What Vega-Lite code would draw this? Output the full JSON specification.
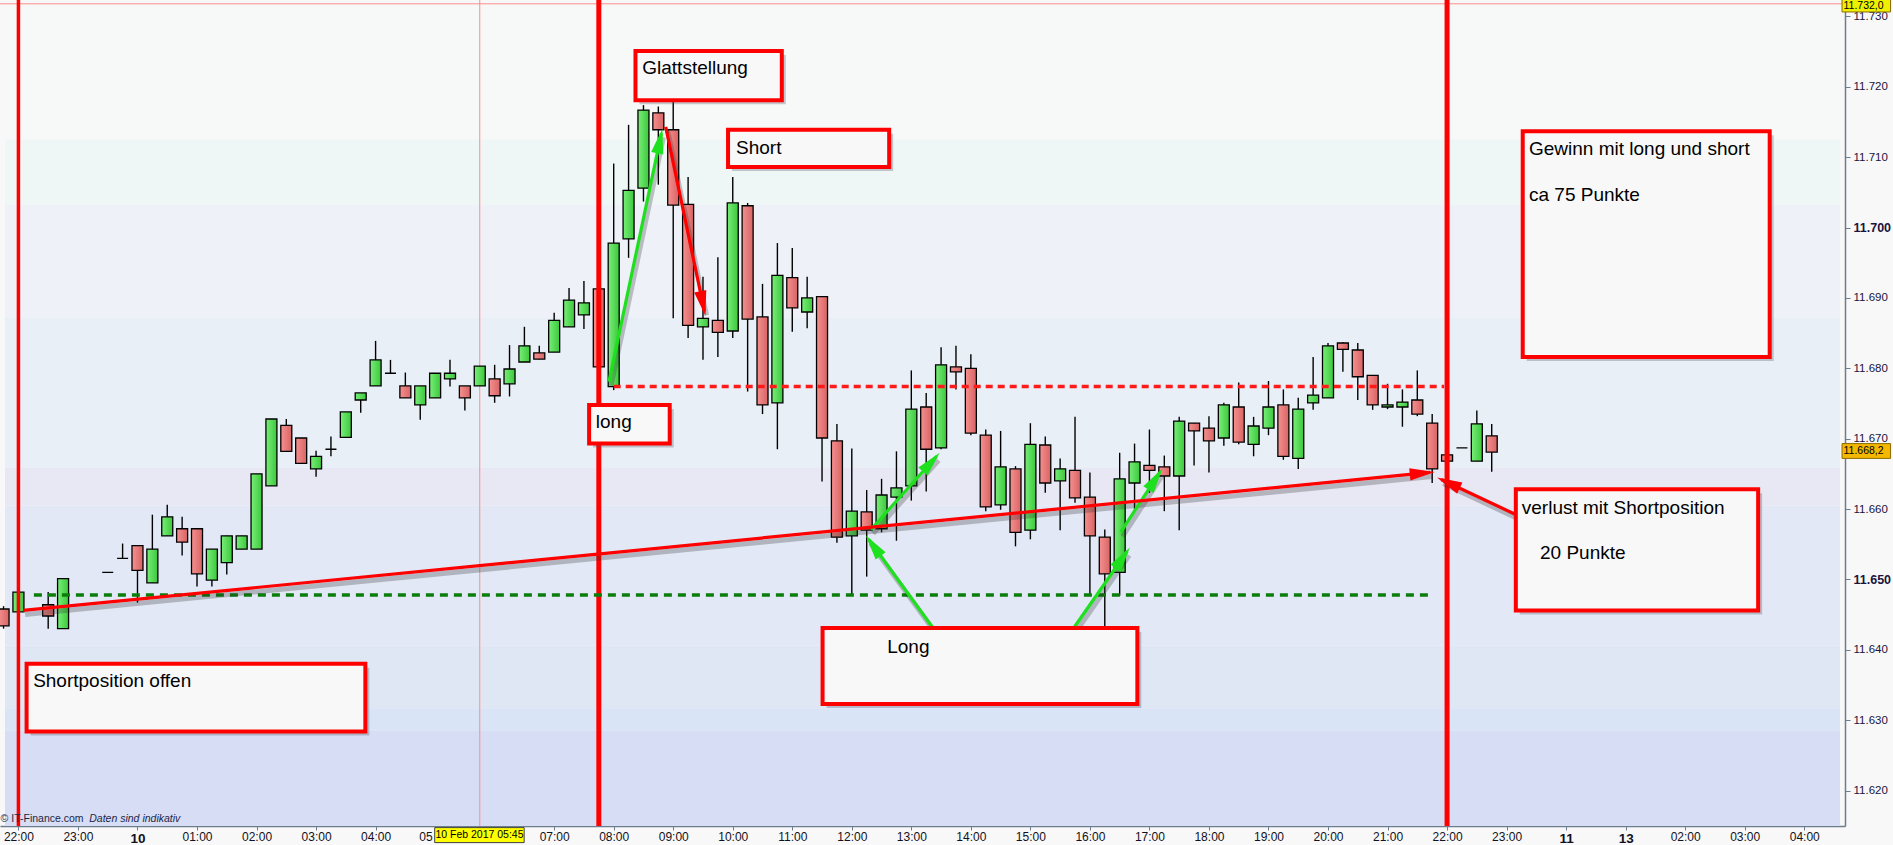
{
  "$schema": "https://vega.github.io/schema/vega-lite/v6.json",
  "width": 1845,
  "height": 826,
  "autosize": {"type": "none"},
  "padding": {"left": 0, "top": 0, "right": 48, "bottom": 19},
  "background": "#f8f8f8",
  "config": {"view": {"stroke": null}, "font": "Liberation Sans"},
  "datasets": {
    "bands": [
      {"v1": 11.73234, "v2": 11.7125, "b": "A"},
      {"v1": 11.7125, "v2": 11.7032, "b": "B"},
      {"v1": 11.7032, "v2": 11.6872, "b": "C"},
      {"v1": 11.6872, "v2": 11.6659, "b": "D"},
      {"v1": 11.6659, "v2": 11.6605, "b": "E"},
      {"v1": 11.6605, "v2": 11.6406, "b": "F"},
      {"v1": 11.6406, "v2": 11.6316, "b": "G"},
      {"v1": 11.6316, "v2": 11.6285, "b": "H"},
      {"v1": 11.6285, "v2": 11.61496, "b": "I"}
    ],
    "candles": [
      {"t": -0.25, "o": 11.6458, "h": 11.6462, "l": 11.6430, "c": 11.6434},
      {"t": 0, "o": 11.6454, "h": 11.6482, "l": 11.6454, "c": 11.6482},
      {"t": 0.5, "o": 11.6464, "h": 11.6482, "l": 11.6430, "c": 11.6448},
      {"t": 0.75, "o": 11.6430, "h": 11.6501, "l": 11.6430, "c": 11.6501},
      {"t": 1.5, "o": 11.6510, "h": 11.6510, "l": 11.6510, "c": 11.6510},
      {"t": 1.75, "o": 11.6530, "h": 11.6551, "l": 11.6530, "c": 11.6530},
      {"t": 2, "o": 11.6548, "h": 11.6548, "l": 11.6467, "c": 11.6513},
      {"t": 2.25, "o": 11.6495, "h": 11.6592, "l": 11.6495, "c": 11.6543},
      {"t": 2.5, "o": 11.6562, "h": 11.6606, "l": 11.6562, "c": 11.6589},
      {"t": 2.75, "o": 11.6572, "h": 11.6589, "l": 11.6534, "c": 11.6553},
      {"t": 3, "o": 11.6572, "h": 11.6572, "l": 11.6490, "c": 11.6508},
      {"t": 3.25, "o": 11.6499, "h": 11.6543, "l": 11.6490, "c": 11.6543},
      {"t": 3.5, "o": 11.6524, "h": 11.6562, "l": 11.6507, "c": 11.6562},
      {"t": 3.75, "o": 11.6543, "h": 11.6562, "l": 11.6543, "c": 11.6562},
      {"t": 4, "o": 11.6543, "h": 11.6650, "l": 11.6543, "c": 11.6650},
      {"t": 4.25, "o": 11.6633, "h": 11.6728, "l": 11.6633, "c": 11.6728},
      {"t": 4.5, "o": 11.6719, "h": 11.6728, "l": 11.6682, "c": 11.6682},
      {"t": 4.75, "o": 11.6701, "h": 11.6701, "l": 11.6665, "c": 11.6665},
      {"t": 5, "o": 11.6657, "h": 11.6683, "l": 11.6646, "c": 11.6675},
      {"t": 5.25, "o": 11.6685, "h": 11.6703, "l": 11.6675, "c": 11.6685},
      {"t": 5.5, "o": 11.6702, "h": 11.6738, "l": 11.6702, "c": 11.6738},
      {"t": 5.75, "o": 11.6755, "h": 11.6765, "l": 11.6737, "c": 11.6765},
      {"t": 6, "o": 11.6775, "h": 11.6839, "l": 11.6775, "c": 11.6812},
      {"t": 6.25, "o": 11.6793, "h": 11.6812, "l": 11.6793, "c": 11.6793},
      {"t": 6.5, "o": 11.6775, "h": 11.6794, "l": 11.6758, "c": 11.6758},
      {"t": 6.75, "o": 11.6748, "h": 11.6775, "l": 11.6727, "c": 11.6775},
      {"t": 7, "o": 11.6758, "h": 11.6793, "l": 11.6758, "c": 11.6793},
      {"t": 7.25, "o": 11.6785, "h": 11.6812, "l": 11.6774, "c": 11.6793},
      {"t": 7.5, "o": 11.6775, "h": 11.6775, "l": 11.6740, "c": 11.6758},
      {"t": 7.75, "o": 11.6775, "h": 11.6803, "l": 11.6775, "c": 11.6803},
      {"t": 8, "o": 11.6785, "h": 11.6805, "l": 11.6751, "c": 11.6761},
      {"t": 8.25, "o": 11.6778, "h": 11.6833, "l": 11.6760, "c": 11.6799},
      {"t": 8.5, "o": 11.6809, "h": 11.6859, "l": 11.6809, "c": 11.6832},
      {"t": 8.75, "o": 11.6822, "h": 11.6832, "l": 11.6813, "c": 11.6813},
      {"t": 9, "o": 11.6823, "h": 11.6879, "l": 11.6823, "c": 11.6868},
      {"t": 9.25, "o": 11.6859, "h": 11.6914, "l": 11.6859, "c": 11.6897},
      {"t": 9.5, "o": 11.6876, "h": 11.6924, "l": 11.6856, "c": 11.6893},
      {"t": 9.75, "o": 11.6913, "h": 11.6913, "l": 11.6802, "c": 11.6802},
      {"t": 10, "o": 11.6774, "h": 11.7091, "l": 11.6769, "c": 11.6978},
      {"t": 10.25, "o": 11.6984, "h": 11.7146, "l": 11.6957, "c": 11.7053},
      {"t": 10.5, "o": 11.7056, "h": 11.7174, "l": 11.7037, "c": 11.7167},
      {"t": 10.75, "o": 11.7163, "h": 11.7172, "l": 11.7061, "c": 11.7139},
      {"t": 11, "o": 11.7139, "h": 11.7197, "l": 11.6871, "c": 11.7032},
      {"t": 11.25, "o": 11.7033, "h": 11.7072, "l": 11.6843, "c": 11.6861},
      {"t": 11.5, "o": 11.6859, "h": 11.6930, "l": 11.6812, "c": 11.6871},
      {"t": 11.75, "o": 11.6868, "h": 11.6958, "l": 11.6816, "c": 11.6851},
      {"t": 12, "o": 11.6853, "h": 11.7072, "l": 11.6843, "c": 11.7035},
      {"t": 12.25, "o": 11.7031, "h": 11.7035, "l": 11.6767, "c": 11.6870},
      {"t": 12.5, "o": 11.6873, "h": 11.6920, "l": 11.6735, "c": 11.6748},
      {"t": 12.75, "o": 11.6751, "h": 11.6978, "l": 11.6685, "c": 11.6932},
      {"t": 13, "o": 11.6929, "h": 11.6971, "l": 11.6852, "c": 11.6886},
      {"t": 13.25, "o": 11.6880, "h": 11.6930, "l": 11.6857, "c": 11.6900},
      {"t": 13.5, "o": 11.6902, "h": 11.6902, "l": 11.6639, "c": 11.6701},
      {"t": 13.75, "o": 11.6697, "h": 11.6721, "l": 11.6552, "c": 11.6560},
      {"t": 14, "o": 11.6562, "h": 11.6686, "l": 11.6477, "c": 11.6597},
      {"t": 14.25, "o": 11.6596, "h": 11.6627, "l": 11.6504, "c": 11.6570},
      {"t": 14.5, "o": 11.6572, "h": 11.6643, "l": 11.6567, "c": 11.6620},
      {"t": 14.75, "o": 11.6617, "h": 11.6682, "l": 11.6555, "c": 11.6630},
      {"t": 15, "o": 11.6633, "h": 11.6797, "l": 11.6612, "c": 11.6742},
      {"t": 15.25, "o": 11.6745, "h": 11.6765, "l": 11.6625, "c": 11.6685},
      {"t": 15.5, "o": 11.6687, "h": 11.6830, "l": 11.6685, "c": 11.6805},
      {"t": 15.75, "o": 11.6802, "h": 11.6832, "l": 11.6770, "c": 11.6795},
      {"t": 16, "o": 11.6800, "h": 11.6820, "l": 11.6705, "c": 11.6708},
      {"t": 16.25, "o": 11.6705, "h": 11.6713, "l": 11.6597, "c": 11.6603},
      {"t": 16.5, "o": 11.6606, "h": 11.6711, "l": 11.6599, "c": 11.6660},
      {"t": 16.75, "o": 11.6657, "h": 11.6661, "l": 11.6547, "c": 11.6567},
      {"t": 17, "o": 11.6570, "h": 11.6722, "l": 11.6557, "c": 11.6692},
      {"t": 17.25, "o": 11.6691, "h": 11.6703, "l": 11.6623, "c": 11.6637},
      {"t": 17.5, "o": 11.6640, "h": 11.6672, "l": 11.6570, "c": 11.6657},
      {"t": 17.75, "o": 11.6655, "h": 11.6731, "l": 11.6609, "c": 11.6616},
      {"t": 18, "o": 11.6617, "h": 11.6652, "l": 11.6476, "c": 11.6562},
      {"t": 18.25, "o": 11.6560, "h": 11.6571, "l": 11.6432, "c": 11.6508},
      {"t": 18.5, "o": 11.6510, "h": 11.6680, "l": 11.6477, "c": 11.6643},
      {"t": 18.75, "o": 11.6637, "h": 11.6693, "l": 11.6599, "c": 11.6667},
      {"t": 19, "o": 11.6662, "h": 11.6713, "l": 11.6623, "c": 11.6655},
      {"t": 19.25, "o": 11.6660, "h": 11.6676, "l": 11.6597, "c": 11.6647},
      {"t": 19.5, "o": 11.6647, "h": 11.6731, "l": 11.6570, "c": 11.6725},
      {"t": 19.75, "o": 11.6722, "h": 11.6722, "l": 11.6662, "c": 11.6711},
      {"t": 20, "o": 11.6715, "h": 11.6732, "l": 11.6652, "c": 11.6697},
      {"t": 20.25, "o": 11.6701, "h": 11.6751, "l": 11.6690, "c": 11.6748},
      {"t": 20.5, "o": 11.6745, "h": 11.6780, "l": 11.6692, "c": 11.6695},
      {"t": 20.75, "o": 11.6692, "h": 11.6731, "l": 11.6675, "c": 11.6718},
      {"t": 21, "o": 11.6715, "h": 11.6782, "l": 11.6705, "c": 11.6745},
      {"t": 21.25, "o": 11.6748, "h": 11.6770, "l": 11.6670, "c": 11.6675},
      {"t": 21.5, "o": 11.6672, "h": 11.6758, "l": 11.6657, "c": 11.6742},
      {"t": 21.75, "o": 11.6751, "h": 11.6816, "l": 11.6741, "c": 11.6762},
      {"t": 22, "o": 11.6758, "h": 11.6836, "l": 11.6758, "c": 11.6832},
      {"t": 22.25, "o": 11.6836, "h": 11.6837, "l": 11.6795, "c": 11.6827},
      {"t": 22.5, "o": 11.6826, "h": 11.6836, "l": 11.6755, "c": 11.6788},
      {"t": 22.75, "o": 11.6790, "h": 11.6790, "l": 11.6741, "c": 11.6748},
      {"t": 23, "o": 11.6745, "h": 11.6778, "l": 11.6742, "c": 11.6748},
      {"t": 23.25, "o": 11.6745, "h": 11.6770, "l": 11.6717, "c": 11.6752},
      {"t": 23.5, "o": 11.6755, "h": 11.6797, "l": 11.6732, "c": 11.6735},
      {"t": 23.75, "o": 11.6722, "h": 11.6735, "l": 11.6637, "c": 11.6657},
      {"t": 24, "o": 11.6677, "h": 11.6677, "l": 11.6668, "c": 11.6668},
      {"t": 24.25, "o": 11.6687, "h": 11.6687, "l": 11.6687, "c": 11.6687},
      {"t": 24.5, "o": 11.6668, "h": 11.6740, "l": 11.6668, "c": 11.6721},
      {"t": 24.75, "o": 11.6704, "h": 11.6721, "l": 11.6653, "c": 11.6681}
    ],
    "arrows": [
      {"t1": 0.080, "v1": 11.6456, "t2": 23.717, "v2": 11.6652, "k": "red"},
      {"t1": 9.921, "v1": 11.6781, "t2": 10.802, "v2": 11.7134, "k": "green"},
      {"t1": 10.874, "v1": 11.7143, "t2": 11.525, "v2": 11.6881, "k": "red"},
      {"t1": 14.323, "v1": 11.6571, "t2": 15.425, "v2": 11.6675, "k": "green"},
      {"t1": 15.363, "v1": 11.6431, "t2": 14.282, "v2": 11.6557, "k": "green"},
      {"t1": 17.728, "v1": 11.6431, "t2": 18.627, "v2": 11.6540, "k": "green"},
      {"t1": 18.516, "v1": 11.6567, "t2": 19.173, "v2": 11.6652, "k": "green"},
      {"t1": 25.561, "v1": 11.6576, "t2": 23.902, "v2": 11.6642, "k": "red"}
    ],
    "boxes": [
      {"x1": 10.366, "x2": 12.824, "y1": 11.7251, "y2": 11.7181},
      {"x1": 11.921, "x2": 14.628, "y1": 11.7139, "y2": 11.7086},
      {"x1": 9.587, "x2": 10.941, "y1": 11.6748, "y2": 11.6693},
      {"x1": 0.137, "x2": 5.828, "y1": 11.6380, "y2": 11.6284},
      {"x1": 13.509, "x2": 18.797, "y1": 11.6431, "y2": 11.6323},
      {"x1": 25.271, "x2": 29.420, "y1": 11.7137, "y2": 11.6816},
      {"x1": 25.155, "x2": 29.226, "y1": 11.6628, "y2": 11.6456}
    ],
    "notes": [
      {"t": 10.48, "v": 11.7227, "label": "Glattstellung"},
      {"t": 12.055, "v": 11.7113, "label": "Short"},
      {"t": 9.699, "v": 11.6723, "label": "long"},
      {"t": 0.247, "v": 11.6355, "label": "Shortposition offen"},
      {"t": 14.595, "v": 11.6404, "label": "Long"},
      {"t": 25.376, "v": 11.7111, "label": "Gewinn mit long und short"},
      {"t": 25.376, "v": 11.7046, "label": "ca 75 Punkte"},
      {"t": 25.255, "v": 11.6602, "label": "verlust mit Shortposition"},
      {"t": 25.561, "v": 11.6538, "label": "20 Punkte"}
    ]
  },
  "layer": [
    {
      "data": {"name": "bands"},
      "mark": {"type": "rect"},
      "encoding": {
        "x": {"datum": -0.2256, "type": "quantitative"},
        "x2": {"datum": 30.601},
        "y": {"field": "v1", "type": "quantitative"},
        "y2": {"field": "v2"},
        "color": {"field": "b", "type": "nominal", "legend": null,
          "scale": {"domain": ["A","B","C","D","E","F","G","H","I"],
            "range": ["#f7f8f8","#eff6f6","#eef1f8","#e9eff7","#e8e8f5","#e2e8f5","#dfe7f5","#d9e5f6","#d6ddf5"]}}
      }
    },
    {
      "data": {"values": [{"t": 7.75}]},
      "mark": {"type": "rule", "color": "#ff8c8c", "strokeWidth": 1},
      "encoding": {"x": {"field": "t", "type": "quantitative"}}
    },
    {
      "data": {"values": [{"v": 11.7318}]},
      "mark": {"type": "rule", "color": "#ff8c8c", "strokeWidth": 1},
      "encoding": {"y": {"field": "v", "type": "quantitative"}}
    },
    {
      "data": {"name": "candles"},
      "mark": {"type": "rule", "color": "#000000", "strokeWidth": 1.4},
      "encoding": {
        "x": {"field": "t", "type": "quantitative",
          "scale": {"domain": [-0.2256, 30.601], "nice": false, "zero": false},
          "axis": {
            "orient": "bottom", "title": null, "grid": false,
            "values": [0,1,2,3,4,5,6,7,8,9,10,11,12,13,14,15,16,17,18,19,20,21,22,23,24,25,26,27,28,29,30],
            "labelExpr": "datum.value == 2 ? '10' : datum.value == 26 ? '11' : datum.value == 27 ? '13' : datum.value == 7 ? '05' : datum.value == 8 ? '' : (((22 + datum.value) % 24) < 10 ? '0' : '') + ((22 + datum.value) % 24) + ':00'",
            "labelFont": "Liberation Sans",
            "labelAlign": {"condition": {"test": "datum.value == 7", "value": "right"}, "value": "center"},
            "labelOffset": {"condition": {"test": "datum.value == 7", "value": -3}, "value": 0},
            "labelFontSize": {"condition": {"test": "datum.value == 2 || datum.value == 26 || datum.value == 27", "value": 13.5}, "value": 12},
            "labelFontWeight": {"condition": {"test": "datum.value == 2 || datum.value == 26 || datum.value == 27", "value": "bold"}, "value": "normal"},
            "labelColor": "#111122", "labelPadding": 1, "labelOverlap": false, "labelFlush": false,
            "tickSize": 4, "tickColor": "#6b7d8f", "domainColor": "#6b7d8f", "domainWidth": 1.5
          }
        },
        "y": {"field": "l", "type": "quantitative",
          "scale": {"domain": [11.61496, 11.73234], "nice": false, "zero": false},
          "axis": {
            "orient": "right", "title": null, "grid": false,
            "values": [11.62, 11.63, 11.64, 11.65, 11.66, 11.67, 11.68, 11.69, 11.7, 11.71, 11.72, 11.73],
            "format": ".3f",
            "labelFont": "Liberation Sans",
            "labelFontSize": {"condition": {"test": "abs(datum.value - 11.7) < 0.0001 || abs(datum.value - 11.65) < 0.0001", "value": 12.5}, "value": 11.5},
            "labelFontWeight": {"condition": {"test": "abs(datum.value - 11.7) < 0.0001 || abs(datum.value - 11.65) < 0.0001", "value": "bold"}, "value": "normal"},
            "labelColor": "#1a1440", "labelPadding": 3,
            "tickSize": 5, "tickColor": "#6b7d8f", "domainColor": "#6b7d8f", "domainWidth": 1.5
          }
        },
        "y2": {"field": "h"}
      }
    },
    {
      "data": {"name": "candles"},
      "transform": [{"filter": "datum.c >= datum.o"}],
      "mark": {"type": "bar", "size": 11, "stroke": "#000000", "strokeWidth": 1.3,
        "fill": {"gradient": "linear", "x1": 0, "y1": 0, "x2": 1, "y2": 0,
          "stops": [{"offset": 0, "color": "#78ee78"}, {"offset": 1, "color": "#3cc83c"}]}},
      "encoding": {
        "x": {"field": "t", "type": "quantitative"},
        "y": {"field": "o", "type": "quantitative"},
        "y2": {"field": "c"}
      }
    },
    {
      "data": {"name": "candles"},
      "transform": [{"filter": "datum.c < datum.o"}],
      "mark": {"type": "bar", "size": 11, "stroke": "#000000", "strokeWidth": 1.3,
        "fill": {"gradient": "linear", "x1": 0, "y1": 0, "x2": 1, "y2": 0,
          "stops": [{"offset": 0, "color": "#f59090"}, {"offset": 1, "color": "#d86464"}]}},
      "encoding": {
        "x": {"field": "t", "type": "quantitative"},
        "y": {"field": "o", "type": "quantitative"},
        "y2": {"field": "c"}
      }
    },
    {
      "data": {"values": [{"t": 0}]},
      "mark": {"type": "rule", "color": "#ff0000", "strokeWidth": 3.5},
      "encoding": {"x": {"field": "t", "type": "quantitative"}}
    },
    {
      "data": {"values": [{"t": 9.75}, {"t": 24}]},
      "mark": {"type": "rule", "color": "#ff0000", "strokeWidth": 5},
      "encoding": {"x": {"field": "t", "type": "quantitative"}}
    },
    {
      "data": {"values": [{"t1": 10.0, "t2": 23.95, "v": 11.6774}]},
      "mark": {"type": "rule", "color": "#ff1a1a", "strokeWidth": 3.5, "strokeDash": [7, 5]},
      "encoding": {
        "x": {"field": "t1", "type": "quantitative"},
        "x2": {"field": "t2"},
        "y": {"field": "v", "type": "quantitative"}
      }
    },
    {
      "data": {"values": [{"t1": 0.26, "t2": 23.75, "v": 11.6478}]},
      "mark": {"type": "rule", "color": "#0b7d0b", "strokeWidth": 3.5, "strokeDash": [8, 6]},
      "encoding": {
        "x": {"field": "t1", "type": "quantitative"},
        "x2": {"field": "t2"},
        "y": {"field": "v", "type": "quantitative"}
      }
    },
    {
      "data": {"name": "arrows"},
      "mark": {"type": "rule", "color": "#303030", "opacity": 0.28, "strokeWidth": 5,
        "xOffset": 2, "yOffset": 4, "x2Offset": 2, "y2Offset": 4},
      "encoding": {
        "x": {"field": "t1", "type": "quantitative"},
        "y": {"field": "v1", "type": "quantitative"},
        "x2": {"field": "t2"},
        "y2": {"field": "v2"}
      }
    },
    {
      "data": {"name": "arrows"},
      "transform": [{"filter": "datum.k == 'green'"}],
      "mark": {"type": "rule", "strokeWidth": 3.2, "color": "#1fe01f"},
      "encoding": {
        "x": {"field": "t1", "type": "quantitative"},
        "y": {"field": "v1", "type": "quantitative"},
        "x2": {"field": "t2"},
        "y2": {"field": "v2"}
      }
    },
    {
      "data": {"name": "arrows"},
      "transform": [{"filter": "datum.k == 'red'"}],
      "mark": {"type": "rule", "strokeWidth": 3.2, "color": "#ff0000"},
      "encoding": {
        "x": {"field": "t1", "type": "quantitative"},
        "y": {"field": "v1", "type": "quantitative"},
        "x2": {"field": "t2"},
        "y2": {"field": "v2"}
      }
    },
    {
      "data": {"name": "arrows"},
      "transform": [
        {"filter": "datum.k == 'green'"},
        {"calculate": "atan2((datum.t2 - datum.t1) * 59.85, (datum.v2 - datum.v1) * 7040) * 180 / PI", "as": "ang"}
      ],
      "mark": {"type": "point", "shape": "M0,-0.45L-0.6,2L0.6,2Z", "filled": true, "opacity": 1, "size": 420, "strokeWidth": 0, "color": "#1fe01f"},
      "encoding": {
        "x": {"field": "t2", "type": "quantitative"},
        "y": {"field": "v2", "type": "quantitative"},
        "angle": {"field": "ang", "type": "quantitative", "scale": null}
      }
    },
    {
      "data": {"name": "arrows"},
      "transform": [
        {"filter": "datum.k == 'red'"},
        {"calculate": "atan2((datum.t2 - datum.t1) * 59.85, (datum.v2 - datum.v1) * 7040) * 180 / PI", "as": "ang"}
      ],
      "mark": {"type": "point", "shape": "M0,-0.45L-0.6,2L0.6,2Z", "filled": true, "opacity": 1, "size": 420, "strokeWidth": 0, "color": "#ff0000"},
      "encoding": {
        "x": {"field": "t2", "type": "quantitative"},
        "y": {"field": "v2", "type": "quantitative"},
        "angle": {"field": "ang", "type": "quantitative", "scale": null}
      }
    },
    {
      "data": {"name": "boxes"},
      "mark": {"type": "rect", "color": "#505060", "opacity": 0.3,
        "xOffset": 4, "x2Offset": 4, "yOffset": 4, "y2Offset": 4},
      "encoding": {
        "x": {"field": "x1", "type": "quantitative"},
        "x2": {"field": "x2"},
        "y": {"field": "y1", "type": "quantitative"},
        "y2": {"field": "y2"}
      }
    },
    {
      "data": {"name": "boxes"},
      "mark": {"type": "rect", "fill": "#f8f8f8", "stroke": "#ff0000", "strokeWidth": 4},
      "encoding": {
        "x": {"field": "x1", "type": "quantitative"},
        "x2": {"field": "x2"},
        "y": {"field": "y1", "type": "quantitative"},
        "y2": {"field": "y2"}
      }
    },
    {
      "data": {"name": "notes"},
      "mark": {"type": "text", "font": "Liberation Sans", "fontSize": 19, "align": "left", "baseline": "middle", "color": "#000000"},
      "encoding": {
        "x": {"field": "t", "type": "quantitative"},
        "y": {"field": "v", "type": "quantitative"},
        "text": {"field": "label"}
      }
    },
    {
      "data": {"values": [{"t": -0.30, "v": 11.6159, "label": "© IT-Finance.com"}]},
      "mark": {"type": "text", "font": "Liberation Sans", "fontSize": 10.5, "align": "left", "baseline": "middle", "color": "#1c2646"},
      "encoding": {
        "x": {"field": "t", "type": "quantitative"},
        "y": {"field": "v", "type": "quantitative"},
        "text": {"field": "label"}
      }
    },
    {
      "data": {"values": [{"t": 1.19, "v": 11.6159, "label": "Daten sind indikativ"}]},
      "mark": {"type": "text", "font": "Liberation Sans", "fontSize": 10.5, "fontStyle": "italic", "align": "left", "baseline": "middle", "color": "#1c2646"},
      "encoding": {
        "x": {"field": "t", "type": "quantitative"},
        "y": {"field": "v", "type": "quantitative"},
        "text": {"field": "label"}
      }
    },
    {
      "data": {"values": [{"x1": 6.993, "x2": 8.496, "y1": 11.61473, "y2": 11.6126}]},
      "mark": {"type": "rect", "fill": "#ffff00", "stroke": "#404040", "strokeWidth": 1},
      "encoding": {
        "x": {"field": "x1", "type": "quantitative"},
        "x2": {"field": "x2"},
        "y": {"field": "y1", "type": "quantitative"},
        "y2": {"field": "y2"}
      }
    },
    {
      "data": {"values": [{"t": 7.745, "v": 11.61366, "label": "10 Feb 2017 05:45"}]},
      "mark": {"type": "text", "font": "Liberation Sans", "fontSize": 10.5, "align": "center", "baseline": "middle", "color": "#000000"},
      "encoding": {
        "x": {"field": "t", "type": "quantitative"},
        "y": {"field": "v", "type": "quantitative"},
        "text": {"field": "label"}
      }
    },
    {
      "data": {"values": [
        {"x1": 30.635, "x2": 31.45, "y1": 11.73249, "y2": 11.73064, "k": "top"},
        {"x1": 30.635, "x2": 31.45, "y1": 11.6693, "y2": 11.6672, "k": "last"}
      ]},
      "mark": {"type": "rect", "stroke": "#8a6a00", "strokeWidth": 1},
      "encoding": {
        "x": {"field": "x1", "type": "quantitative"},
        "x2": {"field": "x2"},
        "y": {"field": "y1", "type": "quantitative"},
        "y2": {"field": "y2"},
        "fill": {"field": "k", "type": "nominal", "legend": null,
          "scale": {"domain": ["top", "last"], "range": ["#eef000", "#f5b800"]}}
      }
    },
    {
      "data": {"values": [
        {"t": 30.66, "v": 11.73142, "label": "11.732,0"},
        {"t": 30.66, "v": 11.66822, "label": "11.668,2"}
      ]},
      "mark": {"type": "text", "font": "Liberation Sans", "fontSize": 10.5, "align": "left", "baseline": "middle", "color": "#000000"},
      "encoding": {
        "x": {"field": "t", "type": "quantitative"},
        "y": {"field": "v", "type": "quantitative"},
        "text": {"field": "label"}
      }
    }
  ]
}
